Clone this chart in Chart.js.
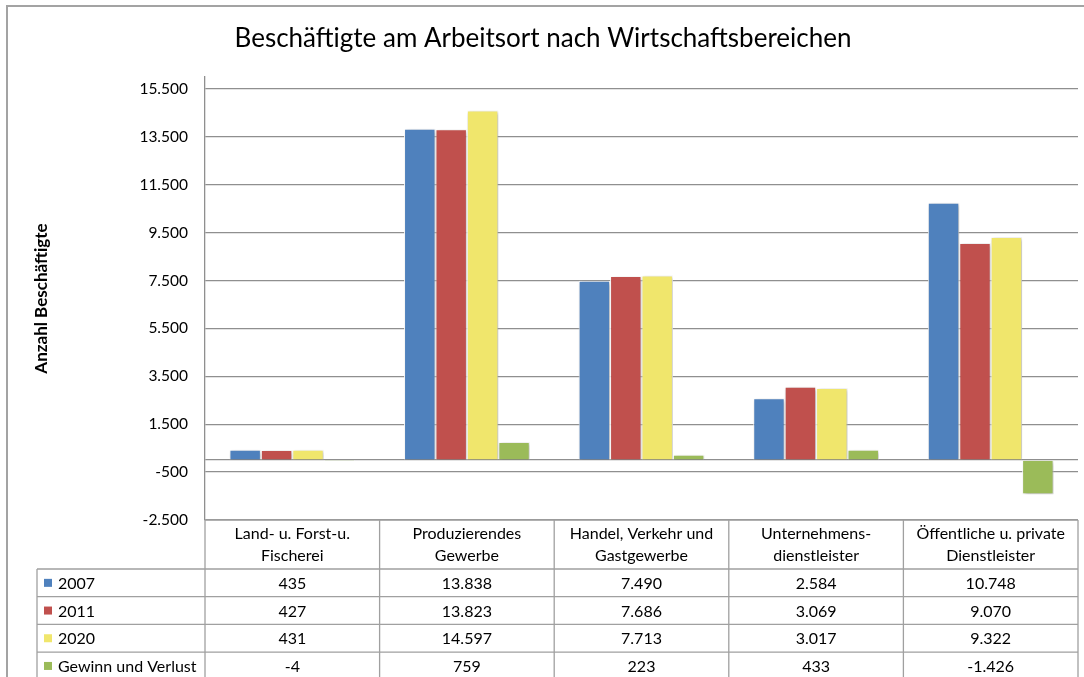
<!DOCTYPE html>
<html>
<head>
<meta charset="utf-8">
<script src="https://cdn.jsdelivr.net/npm/chart.js@4/dist/chart.umd.min.js"></script>
<style>
  html, body { margin: 0; padding: 0; background: #fff; }
  #wrap { width: 1084px; height: 677px; }
</style>
</head>
<body>
<div id="wrap"><canvas id="myChart" width="1084" height="677"></canvas></div>
<script>
/* data */
const categories = [
  ['Land- u. Forst-u.', 'Fischerei'],
  ['Produzierendes', 'Gewerbe'],
  ['Handel, Verkehr und', 'Gastgewerbe'],
  ['Unternehmens-', 'dienstleister'],
  ['Öffentliche u. private', 'Dienstleister']
];
const seriesNames = ['2007', '2011', '2020', 'Gewinn und Verlust'];
const values2007 = [435, 13838, 7490, 2584, 10748];
const values2011 = [427, 13823, 7686, 3069, 9070];
const values2020 = [431, 14597, 7713, 3017, 9322];
const valuesDiff = [-4, 759, 223, 433, -1426];
const yTicks = [-2500, -500, 0, 1500, 3500, 5500, 7500, 9500, 11500, 13500, 15500];

const colors = ['#4F81BD', '#C0504D', '#F0E66C', '#9BBB59'];
const FONT = 'Lato, "Open Sans", sans-serif';
const LINE = '#8f8f8f';

/* german number format, 13838 -> 13.838 */
function fmt(v){
  const s = Math.abs(v).toString().replace(/\B(?=(\d{3})+(?!\d))/g, '.');
  return (v < 0 ? '-' : '') + s;
}

/* soft shadow under the bars */
const shadowPlugin = {
  id: 'barShadow',
  beforeDatasetsDraw(chart){
    const ctx = chart.ctx;
    ctx.save();
    ctx.shadowColor = 'rgba(0,0,0,0.28)';
    ctx.shadowBlur = 4;
    ctx.shadowOffsetX = 1.5;
    ctx.shadowOffsetY = 1.5;
  },
  afterDatasetsDraw(chart){
    chart.ctx.restore();
  }
};

/* outer frame + data table under the plot */
const tablePlugin = {
  id: 'dataTable',
  beforeDraw(chart){
    const ctx = chart.ctx;
    ctx.save();
    ctx.strokeStyle = '#a3a3a3';
    ctx.lineWidth = 2;
    ctx.beginPath();
    ctx.moveTo(7, 677);
    ctx.lineTo(7, 6);
    ctx.lineTo(1084, 6);
    ctx.stroke();
    ctx.restore();
  },
  afterDraw(chart){
    const ctx = chart.ctx;
    const area = chart.chartArea;
    const x = chart.scales.x;
    const colW = (area.right - area.left) / categories.length;
    const headTop = area.bottom;
    const headBottom = headTop + 49;
    const rowH = 27.7;
    const legendLeft = 37;
    const rows = [values2007, values2011, values2020, valuesDiff];
    const bottom = headBottom + rows.length * rowH;

    ctx.save();
    ctx.strokeStyle = '#a0a0a0';
    ctx.lineWidth = 1.3;
    ctx.beginPath();
    // header top
    ctx.moveTo(area.left, headTop);
    ctx.lineTo(area.right, headTop);
    // row lines
    for(let i = 0; i <= rows.length; i++){
      const y = headBottom + i * rowH;
      ctx.moveTo(legendLeft, y);
      ctx.lineTo(area.right, y);
    }
    // vertical lines
    for(let i = 0; i <= categories.length; i++){
      const xx = area.left + i * colW;
      ctx.moveTo(xx, headTop);
      ctx.lineTo(xx, bottom);
    }
    ctx.moveTo(legendLeft, headBottom);
    ctx.lineTo(legendLeft, bottom);
    ctx.stroke();

    ctx.fillStyle = '#000';
    ctx.font = '16px ' + FONT;
    ctx.textAlign = 'center';
    ctx.textBaseline = 'middle';
    categories.forEach(function(lines, i){
      const cx = x.getPixelForValue(i);
      lines.forEach(function(line, j){
        ctx.fillText(line, cx, headTop + 14 + j * 22);
      });
      rows.forEach(function(row, r){
        ctx.fillText(fmt(row[i]), cx, headBottom + r * rowH + rowH / 2 + 1);
      });
    });

    ctx.textAlign = 'left';
    seriesNames.forEach(function(name, r){
      const cy = headBottom + r * rowH + rowH / 2;
      ctx.fillStyle = colors[r];
      ctx.fillRect(legendLeft + 7, cy - 4, 8, 8);
      ctx.fillStyle = '#000';
      ctx.fillText(name, legendLeft + 21, cy + 1);
    });
    ctx.restore();
  }
};

const ctx = document.getElementById('myChart').getContext('2d');

const chart = new Chart(ctx, {
  type: 'bar',
  data: {
    labels: categories,
    datasets: [
      { label: seriesNames[0], data: values2007, backgroundColor: colors[0] },
      { label: seriesNames[1], data: values2011, backgroundColor: colors[1] },
      { label: seriesNames[2], data: values2020, backgroundColor: colors[2] },
      { label: seriesNames[3], data: valuesDiff, backgroundColor: colors[3] },
    ],
  },
  options: {
    responsive: false,
    animation: false,
    layout: { padding: { left: 8, right: 6, top: 0, bottom: 157 } },
    datasets: {
      bar: {
        categoryPercentage: 0.72,
        barPercentage: 1.0,
        borderColor: '#ffffff',
        borderWidth: 1,
      }
    },
    plugins: {
      legend: { display: false },
      tooltip: { enabled: false },
      title: {
        display: true,
        text: 'Beschäftigte am Arbeitsort nach Wirtschaftsbereichen',
        color: '#000',
        font: { family: FONT, size: 26, weight: 'normal' },
        padding: { top: 23, bottom: 22.8 },
      },
    },
    scales: {
      x: {
        display: false,
        offset: true,
      },
      y: {
        min: -2500,
        max: 16000,
        afterBuildTicks: function(scale){
          scale.ticks = yTicks.map(function(v){ return { value: v }; });
        },
        afterFit: function(scale){
          scale.width = 197;
        },
        ticks: {
          padding: 17,
          color: '#000',
          font: { family: FONT, size: 15.5 },
          callback: function(v){ return v === 0 ? '' : fmt(v); },
        },
        grid: { color: LINE, lineWidth: 1.3, drawTicks: false },
        border: { display: true, color: LINE, width: 1.3 },
        title: {
          display: true,
          text: 'Anzahl Beschäftigte',
          color: '#000',
          font: { family: FONT, size: 17, weight: 'bold' },
          padding: { top: 23, bottom: 0 },
        },
      },
    },
  },
  plugins: [shadowPlugin, tablePlugin],
});
</script>
</body>
</html>
